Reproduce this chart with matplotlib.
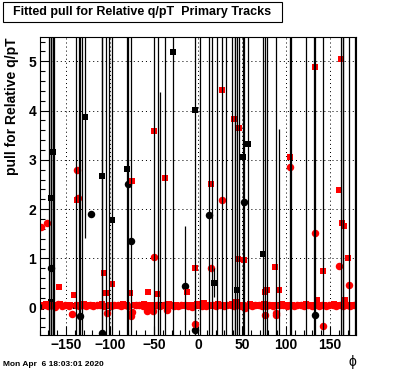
import numpy as np
import matplotlib
matplotlib.use("Agg")
import matplotlib.pyplot as plt
from matplotlib.patches import Rectangle

plt.rcParams['font.family'] = ['Liberation Sans', 'DejaVu Sans']
plt.rcParams['lines.scale_dashes'] = False

# ---------------- data ----------------
title = "Fitted pull for Relative q/pT  Primary Tracks"
ylabel = "pull for Relative q/pT"
xlabel = "\u03d5"
stamp = "Mon Apr  6 18:03:01 2020"

xticks = [-150, -100, -50, 0, 50, 100, 150]
yticks = [0, 1, 2, 3, 4, 5]

# black squares (outliers and points hidden in the band) with errors
bs_x = [-178.7, -169, -167, -166.5, -165, -164, -139, -135.5, -131.8, -128.4,
        -108.7, -104.5, -100.8, -98, -80.3, -49.7, -45.1, -43.2, -37.2, -28.4,
        -3.8, 2.3, 15.5, 18.2, 21.9, 27.6, 31.8, 38.3, 41.5, 42.5,
        44.7, 46.3, 51.5, 56.4, 74.2, 75.8, 78.8, 88.3, 92.4, 104.4,
        105.4, 122.4, 131.5, 142.4, 162.2, 164.3, 165.3, 171.6, 178.8]
bs_y = [0.02, 0.05, 0.12, 2.23, 3.15, 0.04, 0.03, 0.05, 0.04, 3.87,
        2.68, 0.03, 0.05, 1.78, 2.82, 0.04, 0.05, 0.05, 0.03, 5.19,
        4.01, 0.04, 0.03, 0.51, 0.05, 0.04, 0.03, 0.05, 0.04, 0.05,
        0.36, 0.04, 3.05, 3.32, 1.08, 0.05, 0.04, 0.05, 0.05, 0.03,
        0.04, 0.05, 0.04, 0.03, 0.05, 0.04, 0.05, 0.03, 0.04]
bs_err = [0.05, 9, 9, 9, 9, 9, 9, 9, 9, 2.46,
          9, 9, 9, 9, 9, 9, 9, 4.33, 9, 9,
          9, 9, 9, 0.3, 9, 9, 9, 9, 9, 9,
          9, 9, 9, 9, 9, 9, 9, 9, 3.57, 9,
          9, 9, 9, 9, 9, 9, 9, 9, 9]

# black circles
bc_x = [-167, -134, -122, -108.7, -79, -76.1, -14.8, -3.4, 12.9, 52.3, 133.5]
bc_y = [0.80, -0.16, 1.90, -0.52, 2.51, 1.36, 0.45, -0.45, 1.88, 2.14, -0.15]
bc_err = [9, 9, 0.0, 9, 9, 9, 1.2, 0.5, 9, 9, 9]

# red squares (outliers)
rs_x = [-158, -137, -106.5, -97.7, -75, -50, -37.5, -3, 14.8, 27.3,
        40.5, 46.6, 46, 52.3, 75.8, 78.4, 87.5, 91.7, 104.5, 132.6,
        142, 160, 162, 164, 166, 171]
rs_y = [0.42, 2.18, 0.71, 0.49, 2.57, 3.59, 2.63, 0.80, 2.51, 4.42,
        3.83, 3.64, 0.98, 0.97, 0.32, 0.36, 0.83, 0.36, 3.06, 4.89,
        0.75, 2.39, 5.05, 1.72, 1.66, 1.01]

# red circles (outliers)
rc_x = [-178.8, -172, -137, -136, -76, -57.6, -49.6, -3.4, 14.8, 27.3,
        76.5, 88.3, 105, 133.3, 142.4, 160.2, 172]
rc_y = [1.64, 1.72, 2.79, 2.23, -0.17, -0.06, 1.02, -0.34, 0.80, 2.18,
        -0.15, -0.14, 2.85, 1.52, -0.37, 0.84, 0.47]

# dense band near zero: bin centres every 4 degrees
rc_band_x = np.arange(-179, 180, 4)
rc_band_y = [
    0.04, 0.06, 0.03, 0.05, 0.02, 0.07, 0.04, 0.05, 0.03, -0.12,
    0.05, 0.04, 0.06, 0.03, 0.05, 0.04, 0.06, 0.05, 0.03, -0.11,
    0.04, 0.06, 0.05, 0.03, 0.05, 0.04, -0.08, 0.05, 0.06, 0.04,
    0.05, 0.03, -0.07, 0.05, 0.04, 0.06, -0.04, 0.05, 0.03, 0.04,
    0.06, 0.05, 0.04, 0.02, 0.05, 0.06, 0.04, 0.03, 0.05, 0.06,
    0.04, 0.05, 0.03, 0.06, 0.05, 0.04, 0.05, 0.03, -0.01, 0.05,
    0.04, 0.06, 0.05, 0.04, 0.03, 0.05, 0.04, -0.10, 0.05, 0.06,
    0.04, 0.05, 0.03, 0.06, 0.05, 0.04, 0.05, 0.03, 0.06, 0.04,
    0.05, 0.03, 0.05, 0.06, 0.04, 0.05, 0.03, 0.05, 0.04, 0.05,
]
rs_band_x = np.arange(-177, 180, 4)
rs_band_y = [
    0.05, 0.07, 0.04, 0.06, 0.05, 0.08, 0.04, 0.06, 0.05, 0.25,
    0.06, 0.04, 0.07, 0.05, 0.06, 0.04, 0.05, 0.07, 0.29, 0.05,
    0.06, 0.04, 0.05, 0.07, 0.05, 0.30, 0.06, 0.04, 0.05, 0.07,
    0.32, 0.05, 0.06, 0.28, 0.04, 0.05, 0.07, 0.05, 0.06, 0.04,
    0.05, 0.32, 0.06, 0.05, 0.07, 0.04, 0.09, 0.05, 0.06, 0.05,
    0.07, 0.04, 0.06, 0.05, 0.07, 0.12, 0.05, 0.06, 0.04, 0.07,
    0.05, 0.06, 0.04, 0.07, 0.05, 0.06, 0.05, 0.04, 0.07, 0.05,
    0.06, 0.05, 0.04, 0.06, 0.05, 0.07, 0.04, 0.06, 0.15, 0.05,
    0.06, 0.04, 0.05, 0.07, 0.05, 0.06, 0.15, 0.05, 0.06, 0.05,
]

# ---------------- figure ----------------
W, H = 396, 372
fig = plt.figure(figsize=(W / 100, H / 100), dpi=100)
fig.patch.set_facecolor('white')
ax = fig.add_axes([0.1, 0.1, 0.8, 0.8])
ax.set_xlim(-180, 180)
ax.set_ylim(-0.55, 5.49)

# grid (sparse dots)
for xv in xticks:
    ax.axvline(xv, color='black', lw=0.72, dashes=(0.72, 2.2), zorder=1)
for yv in yticks:
    ax.axhline(yv, color='black', lw=0.72, dashes=(0.72, 2.2), zorder=1)

MS_C, MS_S = 5.4, 4.7

# black markers (under red band)
ax.plot(bs_x, bs_y, 's', color='black', ms=MS_S, mew=0, zorder=2)
ax.plot(bc_x, bc_y, 'o', color='black', ms=MS_C, mew=0, zorder=2)

# red band + outliers
ax.plot(rc_band_x, rc_band_y, 'o', color='red', ms=MS_C, mew=0, zorder=3)
ax.plot(rs_band_x, rs_band_y, 's', color='red', ms=MS_S, mew=0, zorder=3)
ax.plot(rc_x, rc_y, 'o', color='red', ms=MS_C, mew=0, zorder=3)
ax.plot(rs_x, rs_y, 's', color='red', ms=MS_S, mew=0, zorder=3)

# black error lines on top
ax.errorbar(bs_x, bs_y, yerr=bs_err, fmt='none', ecolor='black', elinewidth=0.9,
            capsize=0, zorder=4)
ax.errorbar(bc_x, bc_y, yerr=bc_err, fmt='none', ecolor='black', elinewidth=0.9,
            capsize=0, zorder=4)

# axes styling
for s in ax.spines.values():
    s.set_linewidth(0.8)
    s.set_zorder(6)
ax.set_xticks(xticks)
ax.set_yticks(yticks)
ax.set_xticks(np.arange(-180, 181, 10), minor=True)
ax.set_yticks(np.arange(-0.4, 5.5, 0.2), minor=True)
ax.tick_params(which='both', direction='in', top=False, right=False, width=0.8)
ax.tick_params(which='major', length=6.5, labelsize=10, pad=2.5)
ax.tick_params(which='minor', length=3.3)
ax.set_xticklabels([f"\u2212{abs(v)}" if v < 0 else str(v) for v in xticks],
                   fontweight='bold')
ax.set_yticklabels([str(v) for v in yticks], fontweight='bold')

ax.text(-0.087, 1.0, ylabel, transform=ax.transAxes, rotation=90,
        fontsize=10, fontweight='bold', ha='center', va='top')

fig.text(356 / W, 1 - 362 / H, xlabel, fontsize=10, ha='right', va='center')

# title box
fig.patches.append(Rectangle((3.3 / W, 1 - 21.7 / H), (281.7 - 3.3) / W, 20 / H,
                             transform=fig.transFigure, facecolor='white',
                             edgecolor='black', lw=0.8))
fig.text(142.5 / W, 1 - 11.8 / H, title, fontsize=9, fontweight='bold',
         ha='center', va='center')

fig.text(3.3 / W, 1 - 364 / H, stamp, fontsize=6, fontweight='bold',
         ha='left', va='center')

fig.savefig('out.png', dpi=100)
